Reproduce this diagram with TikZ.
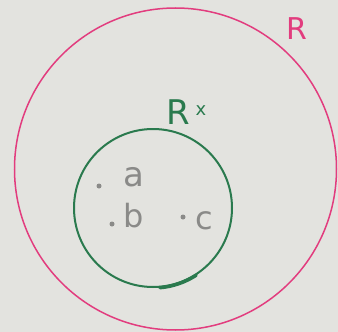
\documentclass[tikz,border=0pt]{standalone}
\usepackage{fontspec}
\setsansfont{DejaVu Sans}
\definecolor{bg}{HTML}{E3E3DF}
\definecolor{pinkc}{HTML}{E23C7E}
\definecolor{greenc}{HTML}{2A7A4E}
\definecolor{grayc}{HTML}{8A8A88}
\tikzset{
  ring/.style={circle, draw, inner sep=0pt},
  lbl/.style={inner sep=0pt, font=\sffamily},
  pt/.style={circle, fill=grayc, inner sep=0pt, minimum size=5pt},
}
\begin{document}
\begin{tikzpicture}[x=1pt,y=-1pt]
\fill[bg] (0,0) rectangle (338,332);
\useasboundingbox (0,0) rectangle (338,332);
\node[ring, draw=pinkc, line width=1.5pt, minimum size=322pt] (outer) at (175.5,169) {};
\node[ring, draw=greenc, line width=2pt, minimum size=158pt] (inner) at (153,208) {};
\draw[greenc, line width=3.5pt, line cap=round] (inner.-85) arc[start angle=-85, end angle=-57, radius=79pt];
\node[lbl, text=pinkc, font=\sffamily\fontsize{30}{30}\selectfont] (R) at (297,29) {R};
\node[lbl, text=greenc, font=\sffamily\fontsize{34}{34}\selectfont] (Rx) at (178,112) {R};
\node[lbl, text=greenc, font=\sffamily\fontsize{18}{18}\selectfont] (x) at (201,111) {x};
\node[pt] (pa) at (99,186) {};
\node[pt] (pb) at (112,224) {};
\node[pt] (pc) at (183,217) {};
\node[lbl, text=grayc, font=\sffamily\fontsize{34}{34}\selectfont] (a) at (134,177) {a};
\node[lbl, text=grayc, font=\sffamily\fontsize{32}{32}\selectfont] (b) at (134,216) {b};
\node[lbl, text=grayc, font=\sffamily\fontsize{32}{32}\selectfont] (c) at (204,221) {c};
\end{tikzpicture}
\end{document}
